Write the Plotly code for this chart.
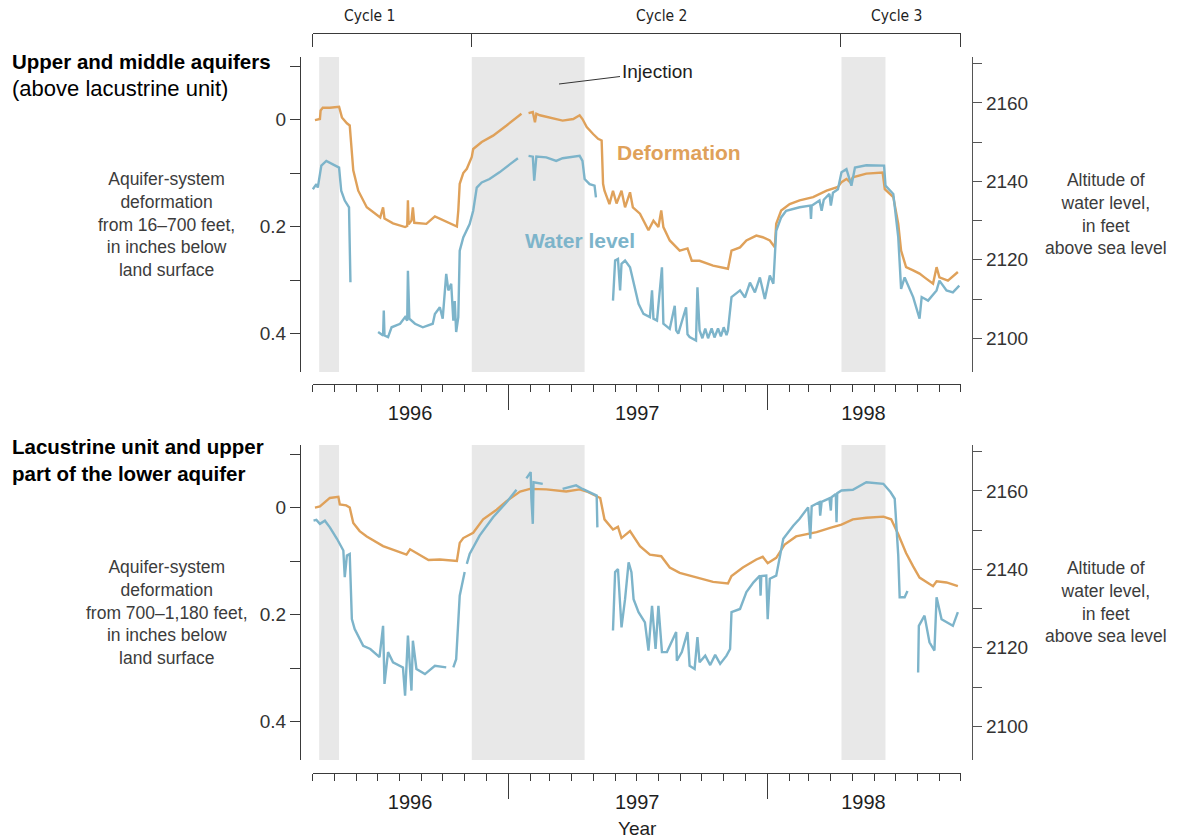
import pandas as pd
import plotly.graph_objects as go

ORANGE = "#DFA15A"
BLUE = "#7DB4CA"
SHADE = "#E8E8E8"
INK = "#1E1E1E"
AXIS = "#3A3A3A"
LABEL = "#3C3C3C"
FONT = "Liberation Sans, Arial, sans-serif"
NARROW = "Liberation Sans Narrow, DejaVu Sans Condensed, Arial Narrow, sans-serif"
W, H = 1183, 838

# injection periods (shaded) and cycle boundaries
injection_periods = [("1996-04-10", "1996-05-08"), ("1996-11-11", "1997-04-19"), ("1998-04-16", "1998-06-17")]
cycle_bounds = ["1996-04-01", "1996-11-11", "1998-04-15", "1998-10-01"]
cycle_labels = ["Cycle 1", "Cycle 2", "Cycle 3"]
cycle_label_at = ["1996-06-20", "1997-08-06", "1998-07-03"]
year_labels = ["1996", "1997", "1998"]
year_label_at = ["1996-08-16", "1997-07-02", "1998-05-17"]
year_bounds = ["1997-01-01", "1998-01-01"]
time_span = ["1996-03-31 18:00", "1998-10-01 06:00"]
view_span = ["1996-03-15 08:00", "1998-10-16 22:00"]

# deformation (inches below land surface), upper and middle aquifers
upper_deformation = [
    ("1996-04-04", 0.001), ("1996-04-11", -0.001), ("1996-04-12", -0.017), ("1996-04-15", -0.022),
    ("1996-04-25", -0.022), ("1996-05-08", -0.024), ("1996-05-12", -0.004), ("1996-05-19", 0.007),
    ("1996-05-23", 0.011), ("1996-05-26", 0.058), ("1996-05-28", 0.095), ("1996-06-04", 0.133),
    ("1996-06-16", 0.164), ("1996-07-05", 0.183), ("1996-07-09", 0.164), ("1996-07-11", 0.185),
    ("1996-07-23", 0.194), ("1996-08-09", 0.201), ("1996-08-12", 0.199), ("1996-08-13", 0.151),
    ("1996-08-14", 0.196), ("1996-08-18", 0.189), ("1996-08-20", 0.164), ("1996-08-22", 0.193),
    ("1996-09-08", 0.195), ("1996-09-20", 0.181), ("1996-09-27", 0.185), ("1996-10-09", 0.192),
    ("1996-10-21", 0.200), ("1996-10-23", 0.170), ("1996-10-25", 0.120), ("1996-10-30", 0.100),
    ("1996-11-04", 0.092), ("1996-11-11", 0.070), ("1996-11-13", 0.055), ("1996-11-25", 0.042),
    ("1996-12-11", 0.030), ("1996-12-30", 0.011), ("1997-01-18", -0.008), ("1997-01-20", -0.011),
    ("1997-01-25", None), ("1997-01-30", -0.012), ("1997-02-05", -0.014), ("1997-02-08", 0.005),
    ("1997-02-10", -0.011), ("1997-02-15", -0.008), ("1997-03-01", -0.004), ("1997-03-19", 0.002),
    ("1997-04-03", -0.001), ("1997-04-12", -0.008), ("1997-04-16", -0.001), ("1997-04-22", 0.014),
    ("1997-05-01", 0.027), ("1997-05-08", 0.036), ("1997-05-13", 0.039), ("1997-05-15", 0.120),
    ("1997-05-17", 0.133), ("1997-05-24", 0.158), ("1997-05-29", 0.133), ("1997-06-03", 0.157),
    ("1997-06-10", 0.133), ("1997-06-15", 0.164), ("1997-06-22", 0.136), ("1997-06-26", 0.164),
    ("1997-07-06", 0.176), ("1997-07-18", 0.207), ("1997-07-25", 0.189), ("1997-08-01", 0.201),
    ("1997-08-05", 0.170), ("1997-08-08", 0.201), ("1997-08-17", 0.226), ("1997-08-31", 0.245),
    ("1997-09-11", 0.241), ("1997-09-17", 0.264), ("1997-09-28", 0.264), ("1997-10-17", 0.273),
    ("1997-11-07", 0.279), ("1997-11-12", 0.245), ("1997-11-24", 0.239), ("1997-12-03", 0.226),
    ("1997-12-17", 0.217), ("1997-12-26", 0.220), ("1998-01-05", 0.226), ("1998-01-12", 0.239),
    ("1998-01-14", 0.195), ("1998-01-21", 0.170), ("1998-02-02", 0.158), ("1998-02-16", 0.151),
    ("1998-03-07", 0.145), ("1998-03-26", 0.133), ("1998-04-11", 0.126), ("1998-04-16", 0.117),
    ("1998-04-23", 0.111), ("1998-04-28", 0.117), ("1998-05-02", 0.108), ("1998-05-21", 0.101),
    ("1998-06-13", 0.099), ("1998-06-16", 0.130), ("1998-06-28", 0.145), ("1998-07-05", 0.195),
    ("1998-07-09", 0.245), ("1998-07-16", 0.276), ("1998-07-26", 0.282), ("1998-08-04", 0.288),
    ("1998-08-11", 0.295), ("1998-08-23", 0.307), ("1998-08-28", 0.276), ("1998-09-01", 0.295),
    ("1998-09-13", 0.301), ("1998-09-27", 0.285),
]

# water level (feet above sea level), upper and middle aquifers
upper_water = [
    ("1996-04-01", 2138.0), ("1996-04-06", 2139.3), ("1996-04-08", 2138.4), ("1996-04-13", 2144.0),
    ("1996-04-20", 2145.2), ("1996-04-29", 2144.4), ("1996-05-08", 2143.5), ("1996-05-11", 2137.6),
    ("1996-05-16", 2135.1), ("1996-05-22", 2133.4), ("1996-05-24", 2114.3), ("1996-06-15", None),
    ("1996-07-02", 2101.6), ("1996-07-09", 2100.7), ("1996-07-10", 2107.1), ("1996-07-11", 2100.7),
    ("1996-07-16", 2100.3), ("1996-07-21", 2102.8), ("1996-08-02", 2103.7), ("1996-08-09", 2105.4),
    ("1996-08-12", 2104.5), ("1996-08-13", 2117.2), ("1996-08-15", 2105.0), ("1996-08-23", 2103.7),
    ("1996-09-03", 2102.8), ("1996-09-17", 2103.7), ("1996-09-20", 2106.2), ("1996-09-27", 2107.9),
    ("1996-10-01", 2105.0), ("1996-10-06", 2116.4), ("1996-10-09", 2112.2), ("1996-10-13", 2113.9),
    ("1996-10-16", 2104.5), ("1996-10-18", 2109.5), ("1996-10-20", 2101.6), ("1996-10-23", 2105.4),
    ("1996-10-25", 2122.3), ("1996-10-30", 2125.7), ("1996-11-08", 2129.1), ("1996-11-13", 2132.5),
    ("1996-11-18", 2138.4), ("1996-11-25", 2139.7), ("1996-12-06", 2140.6), ("1996-12-20", 2142.3),
    ("1997-01-04", 2144.4), ("1997-01-15", 2145.9), ("1997-01-22", None), ("1997-01-30", 2146.5),
    ("1997-02-05", 2146.3), ("1997-02-07", 2140.2), ("1997-02-10", 2146.3), ("1997-02-24", 2146.1),
    ("1997-03-10", 2145.2), ("1997-03-19", 2145.9), ("1997-04-12", 2146.5), ("1997-04-16", 2145.2),
    ("1997-04-19", 2140.6), ("1997-04-26", 2139.3), ("1997-05-03", 2138.9), ("1997-05-05", 2135.9),
    ("1997-05-18", None), ("1997-05-29", 2109.6), ("1997-06-01", 2119.8), ("1997-06-05", 2120.2),
    ("1997-06-08", 2112.2), ("1997-06-10", 2119.0), ("1997-06-15", 2119.8), ("1997-06-22", 2118.1),
    ("1997-06-27", 2113.9), ("1997-07-04", 2108.8), ("1997-07-11", 2106.2), ("1997-07-20", 2105.4),
    ("1997-07-23", 2112.2), ("1997-07-25", 2105.0), ("1997-07-30", 2104.5), ("1997-08-06", 2118.1),
    ("1997-08-08", 2103.7), ("1997-08-17", 2102.4), ("1997-08-24", 2108.3), ("1997-08-26", 2102.0),
    ("1997-08-29", 2101.2), ("1997-09-09", 2107.9), ("1997-09-11", 2101.0), ("1997-09-14", 2100.3),
    ("1997-09-23", 2099.4), ("1997-09-25", 2113.0), ("1997-09-28", 2102.0), ("1997-10-02", 2100.0),
    ("1997-10-06", 2102.5), ("1997-10-10", 2100.0), ("1997-10-15", 2102.5), ("1997-10-19", 2100.2),
    ("1997-10-24", 2102.5), ("1997-10-28", 2100.5), ("1997-11-01", 2102.8), ("1997-11-05", 2100.8),
    ("1997-11-07", 2102.0), ("1997-11-12", 2110.5), ("1997-11-24", 2112.2), ("1997-12-01", 2110.4),
    ("1997-12-08", 2114.2), ("1997-12-15", 2111.7), ("1997-12-22", 2115.5), ("1997-12-29", 2110.0),
    ("1998-01-05", 2116.0), ("1998-01-10", 2113.9), ("1998-01-14", 2127.4), ("1998-01-21", 2130.8),
    ("1998-01-28", 2132.5), ("1998-02-16", 2133.4), ("1998-03-03", 2133.8), ("1998-03-04", 2130.4),
    ("1998-03-05", 2133.8), ("1998-03-16", 2135.1), ("1998-03-19", 2132.5), ("1998-03-22", 2135.3),
    ("1998-03-30", 2136.8), ("1998-04-01", 2133.8), ("1998-04-04", 2137.1), ("1998-04-11", 2138.0),
    ("1998-04-16", 2142.3), ("1998-04-23", 2143.1), ("1998-04-30", 2138.9), ("1998-05-05", 2143.5),
    ("1998-05-21", 2144.1), ("1998-06-15", 2144.0), ("1998-06-17", 2138.9), ("1998-06-28", 2136.8),
    ("1998-07-05", 2125.7), ("1998-07-09", 2112.6), ("1998-07-14", 2115.5), ("1998-07-26", 2110.5),
    ("1998-08-04", 2105.0), ("1998-08-07", 2110.5), ("1998-08-16", 2109.6), ("1998-08-28", 2112.2),
    ("1998-09-01", 2114.7), ("1998-09-11", 2112.2), ("1998-09-20", 2111.7), ("1998-09-29", 2113.4),
]

# deformation, lacustrine unit and upper part of the lower aquifer
lower_deformation = [
    ("1996-04-04", 0.000), ("1996-04-11", -0.002), ("1996-04-25", -0.018), ("1996-05-07", -0.020),
    ("1996-05-09", -0.006), ("1996-05-18", -0.004), ("1996-05-23", 0.000), ("1996-05-28", 0.029),
    ("1996-06-06", 0.044), ("1996-06-16", 0.054), ("1996-07-09", 0.072), ("1996-07-28", 0.082),
    ("1996-08-11", 0.088), ("1996-08-16", 0.078), ("1996-08-30", 0.088), ("1996-09-11", 0.098),
    ("1996-09-27", 0.097), ("1996-10-21", 0.100), ("1996-10-25", 0.066), ("1996-10-30", 0.057),
    ("1996-11-13", 0.047), ("1996-11-27", 0.022), ("1996-12-16", 0.004), ("1996-12-30", -0.012),
    ("1997-01-18", -0.030), ("1997-02-01", -0.035), ("1997-02-24", -0.034), ("1997-03-24", -0.030),
    ("1997-04-12", -0.034), ("1997-04-22", -0.030), ("1997-05-11", -0.018), ("1997-05-17", 0.022),
    ("1997-05-29", 0.041), ("1997-06-05", 0.036), ("1997-06-10", 0.057), ("1997-06-22", 0.044),
    ("1997-07-06", 0.072), ("1997-07-20", 0.088), ("1997-08-05", 0.091), ("1997-08-17", 0.112),
    ("1997-08-31", 0.122), ("1997-09-28", 0.133), ("1997-10-17", 0.139), ("1997-11-07", 0.142),
    ("1997-11-12", 0.128), ("1997-11-28", 0.112), ("1997-12-17", 0.097), ("1997-12-26", 0.092),
    ("1998-01-02", 0.104), ("1998-01-14", 0.094), ("1998-01-26", 0.069), ("1998-02-11", 0.054),
    ("1998-03-12", 0.046), ("1998-03-31", 0.038), ("1998-04-16", 0.032), ("1998-05-02", 0.022),
    ("1998-05-21", 0.019), ("1998-06-14", 0.017), ("1998-06-25", 0.022), ("1998-07-05", 0.050),
    ("1998-07-16", 0.085), ("1998-07-26", 0.110), ("1998-08-04", 0.131), ("1998-08-23", 0.147),
    ("1998-08-28", 0.138), ("1998-09-11", 0.140), ("1998-09-27", 0.147),
]

# water level, lacustrine unit and upper part of the lower aquifer
lower_water = [
    ("1996-04-02", 2152.4), ("1996-04-06", 2152.6), ("1996-04-11", 2151.6), ("1996-04-18", 2152.4),
    ("1996-04-25", 2150.7), ("1996-05-05", 2147.8), ("1996-05-14", 2144.8), ("1996-05-16", 2138.0),
    ("1996-05-19", 2143.5), ("1996-05-23", 2143.9), ("1996-05-26", 2127.3), ("1996-05-30", 2124.8),
    ("1996-06-11", 2120.5), ("1996-06-21", 2119.7), ("1996-07-04", 2117.6), ("1996-07-09", 2125.6),
    ("1996-07-11", 2110.8), ("1996-07-16", 2118.9), ("1996-07-23", 2116.3), ("1996-08-06", 2115.0),
    ("1996-08-09", 2107.8), ("1996-08-13", 2123.1), ("1996-08-18", 2109.1), ("1996-08-20", 2121.8),
    ("1996-08-25", 2114.6), ("1996-09-06", 2113.3), ("1996-09-20", 2115.4), ("1996-10-06", 2115.0),
    ("1996-10-11", None), ("1996-10-16", 2115.0), ("1996-10-20", 2117.1), ("1996-10-25", 2133.3),
    ("1996-11-01", 2139.3), ("1996-11-02", None), ("1996-11-04", 2141.4), ("1996-11-08", 2143.9),
    ("1996-11-22", 2148.6), ("1996-12-11", 2153.3), ("1996-12-30", 2157.1), ("1997-01-13", 2160.3),
    ("1997-01-20", None), ("1997-01-27", 2163.2), ("1997-02-02", 2164.8), ("1997-02-03", 2158.0),
    ("1997-02-05", 2151.6), ("1997-02-06", 2162.2), ("1997-02-19", 2161.8), ("1997-03-05", None),
    ("1997-03-19", 2160.5), ("1997-04-07", 2161.4), ("1997-04-16", 2160.5), ("1997-05-06", 2158.8),
    ("1997-05-07", 2150.7), ("1997-05-18", None), ("1997-05-29", 2124.4), ("1997-06-01", 2139.3),
    ("1997-06-05", 2140.1), ("1997-06-10", 2125.2), ("1997-06-15", 2132.4), ("1997-06-20", 2141.8),
    ("1997-06-24", 2139.3), ("1997-06-27", 2132.4), ("1997-07-04", 2129.1), ("1997-07-13", 2126.5),
    ("1997-07-18", 2119.3), ("1997-07-23", 2130.7), ("1997-07-28", 2119.7), ("1997-08-01", 2130.7),
    ("1997-08-06", 2118.9), ("1997-08-13", 2118.9), ("1997-08-26", 2124.0), ("1997-08-27", 2116.7),
    ("1997-09-03", 2118.9), ("1997-09-11", 2124.0), ("1997-09-14", 2115.4), ("1997-09-21", 2114.6),
    ("1997-09-25", 2122.7), ("1997-09-28", 2116.3), ("1997-10-06", 2118.0), ("1997-10-13", 2115.6),
    ("1997-10-20", 2118.2), ("1997-10-27", 2115.9), ("1997-11-05", 2118.0), ("1997-11-10", 2119.7),
    ("1997-11-12", 2129.1), ("1997-11-24", 2129.9), ("1997-12-03", 2134.2), ("1997-12-13", 2136.7),
    ("1997-12-22", 2138.4), ("1997-12-23", 2133.3), ("1997-12-24", 2138.3), ("1997-12-31", 2138.4),
    ("1998-01-02", 2127.3), ("1998-01-05", 2137.6), ("1998-01-14", 2138.4), ("1998-01-19", 2143.5),
    ("1998-01-24", 2147.8), ("1998-02-07", 2151.1), ("1998-02-16", 2152.9), ("1998-02-28", 2155.8),
    ("1998-03-03", 2147.8), ("1998-03-05", 2156.1), ("1998-03-16", 2157.1), ("1998-03-17", 2153.7),
    ("1998-03-19", 2157.2), ("1998-03-30", 2158.1), ("1998-04-01", 2155.0), ("1998-04-02", 2158.4),
    ("1998-04-08", 2159.2), ("1998-04-09", 2152.0), ("1998-04-10", 2159.4), ("1998-04-16", 2160.1),
    ("1998-05-02", 2160.3), ("1998-05-21", 2162.2), ("1998-06-14", 2161.8), ("1998-06-24", 2159.7),
    ("1998-06-30", 2158.0), ("1998-07-05", 2143.5), ("1998-07-07", 2132.9), ("1998-07-14", 2132.9),
    ("1998-07-18", 2134.5), ("1998-07-25", None), ("1998-08-02", 2113.7), ("1998-08-03", 2125.6),
    ("1998-08-11", 2128.2), ("1998-08-18", 2121.4), ("1998-08-25", 2119.3), ("1998-08-28", 2132.9),
    ("1998-09-04", 2127.3), ("1998-09-11", 2126.5), ("1998-09-20", 2125.6), ("1998-09-27", 2129.1),
]

deformation_ticks = [-0.1, 0, 0.1, 0.2, 0.3, 0.4]
deformation_text = ["", "0", "", "0.2", "", "0.4"]
water_ticks = [2100, 2110, 2120, 2130, 2140, 2150, 2160, 2170]
water_text = ["2100", "", "2120", "", "2140", "", "2160", ""]
month_starts = pd.date_range("1996-04-01", "1998-10-01", freq="MS").strftime("%Y-%m-%d").tolist()


def px_x(p):
    return p / W


def px_y(p):
    return 1 - p / H


def key(axis_id):
    return axis_id[0] + "axis" + axis_id[1:]


panels = [
    dict(x="x", yl="y", yr="y2", months="x3", labels="x4", top=57, bottom=372, ruler=384.3,
         deformation=upper_deformation, water=upper_water, title_top=48,
         title="<b>Upper and middle aquifers</b><br><span style='font-size:22px'>(above lacustrine unit)</span>",
         left_title="Aquifer-system<br>deformation<br>from 16–700 feet,<br>in inches below<br>land surface",
         left_mid=225, right_mid=214),
    dict(x="x2", yl="y3", yr="y4", months="x5", labels="x6", top=445, bottom=760, ruler=773,
         deformation=lower_deformation, water=lower_water, title_top=433,
         title="<b>Lacustrine unit and upper<br>part of the lower aquifer</b>",
         left_title="Aquifer-system<br>deformation<br>from 700–1,180 feet,<br>in inches below<br>land surface",
         left_mid=612, right_mid=602),
]

fig = go.Figure()
layout = {}
annotations = []
# ruler spans Apr 1996 - Oct 1998 (padded by a quarter day so the end ticks are kept)
ruler_domain = [px_x(312.72), px_x(960.88)]
tick_font = dict(size=19, color="#333333")

for p in panels:
    d_dates, d_vals = zip(*p["deformation"])
    w_dates, w_vals = zip(*p["water"])
    fig.add_trace(go.Scatter(x=d_dates, y=d_vals, xaxis=p["x"], yaxis=p["yl"], mode="lines",
                             line=dict(color=ORANGE, width=2.4), connectgaps=False, name="Deformation"))
    fig.add_trace(go.Scatter(x=w_dates, y=w_vals, xaxis=p["x"], yaxis=p["yr"], mode="lines",
                             line=dict(color=BLUE, width=2.4), connectgaps=False, name="Water level"))
    for axis_id in (p["months"], p["labels"]):
        fig.add_trace(go.Scatter(x=[], y=[], xaxis=axis_id, yaxis=p["yl"], hoverinfo="skip"))

    for start, end in injection_periods:
        fig.add_shape(type="rect", xref=p["x"], yref=p["yl"] + " domain", x0=start, x1=end, y0=0, y1=1,
                      fillcolor=SHADE, line_width=0, layer="below")

    layout[key(p["x"])] = dict(type="date", domain=[px_x(301), px_x(972)], range=view_span,
                               visible=False, anchor=p["yl"])
    layout[key(p["yl"])] = dict(domain=[px_y(p["bottom"]), px_y(p["top"])], range=[0.472, -0.117],
                                anchor=p["x"], tickmode="array", tickvals=deformation_ticks,
                                ticktext=deformation_text, ticks="outside", ticklen=10, tickwidth=1.2,
                                tickcolor=AXIS, showline=True, linecolor=AXIS, linewidth=1.2,
                                showgrid=False, zeroline=False, tickfont=tick_font)
    layout[key(p["yr"])] = dict(overlaying=p["yl"], side="right", anchor=p["x"], range=[2091.4, 2171.7],
                                tickmode="array", tickvals=water_ticks, ticktext=water_text,
                                ticks="outside", ticklen=9, tickwidth=1.2, tickcolor="#555555",
                                showline=True, linecolor="#555555", linewidth=1.2,
                                showgrid=False, zeroline=False, tickfont=tick_font)
    layout[key(p["months"])] = dict(type="date", domain=ruler_domain, range=time_span, anchor="free",
                                    position=px_y(p["ruler"]), showline=True, linecolor=AXIS, linewidth=1.2,
                                    tickmode="array", tickvals=year_bounds, ticks="outside", ticklen=25,
                                    tickwidth=1.2, tickcolor=AXIS, showticklabels=False,
                                    minor=dict(tickmode="array", tickvals=month_starts, ticks="outside",
                                               ticklen=7, tickwidth=1.2, tickcolor=AXIS),
                                    showgrid=False, zeroline=False)
    layout[key(p["labels"])] = dict(type="date", domain=ruler_domain, range=time_span, anchor="free",
                                    position=px_y(p["ruler"]), showline=False, tickmode="array",
                                    tickvals=year_label_at, ticktext=year_labels, ticks="outside",
                                    ticklen=11, tickcolor="rgba(0,0,0,0)",
                                    tickfont=dict(size=20, color=INK), showgrid=False, zeroline=False)

    annotations.append(dict(text=p["title"], xref="paper", yref="paper", x=px_x(10), y=px_y(p["title_top"]),
                            xanchor="left", yanchor="top", align="left", showarrow=False,
                            font=dict(size=20.5, color="#000000")))
    annotations.append(dict(text=p["left_title"], xref="paper", yref="paper", x=px_x(167),
                            y=px_y(p["left_mid"]), xanchor="center", yanchor="middle", align="center",
                            showarrow=False, font=dict(size=17.5, color=LABEL)))
    annotations.append(dict(text="Altitude of<br>water level,<br>in feet<br>above sea level", xref="paper",
                            yref="paper", x=px_x(1106), y=px_y(p["right_mid"]), xanchor="center",
                            yanchor="middle", align="center", showarrow=False,
                            font=dict(size=17.5, color=LABEL)))

# cycle bracket across the top: a bare axis line with its ticks hanging down
fig.add_trace(go.Scatter(x=[], y=[], xaxis="x7", yaxis="y", hoverinfo="skip"))
layout["xaxis7"] = dict(type="date", domain=ruler_domain, range=time_span, anchor="free", position=px_y(33),
                        side="bottom", showline=True, linecolor=AXIS, linewidth=1.2, tickmode="array",
                        tickvals=cycle_bounds, ticks="outside", ticklen=13, tickwidth=1.2, tickcolor=AXIS,
                        showticklabels=False, showgrid=False, zeroline=False)
for label, at in zip(cycle_labels, cycle_label_at):
    annotations.append(dict(text=label, xref="x", yref="paper", x=at, y=px_y(16), xanchor="center",
                            yanchor="middle", showarrow=False,
                            font=dict(family=NARROW, size=15.5, color=INK)))

annotations += [
    dict(text="Injection", xref="paper", yref="paper", x=px_x(559), y=px_y(84), ax=98, ay=-12,
         showarrow=True, arrowhead=0, arrowwidth=1, arrowcolor="#333333",
         font=dict(size=19, color=INK)),
    dict(text="<b>Deformation</b>", xref="paper", yref="paper", x=px_x(615), y=px_y(152),
         xanchor="left", yanchor="middle", showarrow=False, font=dict(size=21, color=ORANGE)),
    dict(text="<b>Water level</b>", xref="paper", yref="paper", x=px_x(523), y=px_y(241),
         xanchor="left", yanchor="middle", showarrow=False, font=dict(size=21, color=BLUE)),
    dict(text="Year", xref="paper", yref="paper", x=px_x(637), y=px_y(828), xanchor="center",
         yanchor="middle", showarrow=False, font=dict(size=19, color=INK)),
]

fig.update_layout(
    width=W, height=H,
    margin=dict(l=0, r=0, t=0, b=0),
    paper_bgcolor="white",
    plot_bgcolor="rgba(0,0,0,0)",
    showlegend=False,
    font=dict(family=FONT, color=INK),
    annotations=annotations,
    **layout,
)

# the page's default body margin would shift the fixed-size figure
fig.write_html("out.html", config={"displayModeBar": False},
               post_script="document.body.style.margin = '0';")
